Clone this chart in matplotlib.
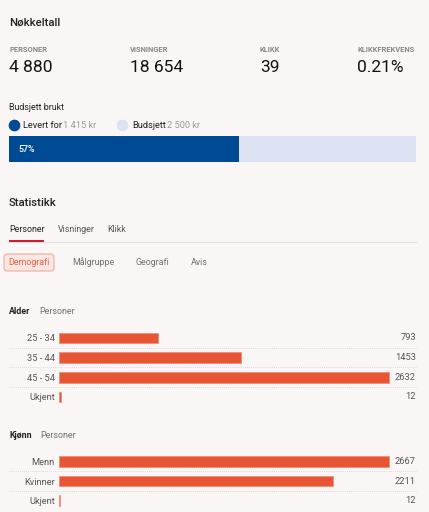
import matplotlib
matplotlib.use('Agg')
import matplotlib.pyplot as plt
from matplotlib.patches import FancyBboxPatch

plt.rcParams['font.family'] = ['Roboto', 'DejaVu Sans']

# key figures
kpi_labels = ['PERSONER', 'VISNINGER', 'KLIKK', 'KLIKKFREKVENS']
kpi_values = ['4 880', '18 654', '39', '0.21%']

# budget
budget_total = 2500
budget_used = 1415

# demographics
age_groups = ['25 - 34', '35 - 44', '45 - 54', 'Ukjent']
age_persons = [793, 1453, 2632, 12]
genders = ['Menn', 'Kvinner', 'Ukjent']
gender_persons = [2667, 2211, 12]

W, H = 429, 512
bg = '#faf6f5'
dark = '#222222'
grey = '#6f6f6f'
bar_red = '#e85535'
navy = '#004a93'
pale = '#dde3f2'
fs = 6.4

fig = plt.figure(figsize=(W / 100, H / 100), dpi=100, facecolor=bg)
ax0 = fig.add_axes([0, 0, 1, 1])
ax0.set_xlim(0, W)
ax0.set_ylim(H, 0)
ax0.axis('off')
ax0.set_facecolor(bg)


def px_axes(x0, y0, x1, y1):
    # axes placed by pixel box (top-left origin)
    a = fig.add_axes([x0 / W, 1 - y1 / H, (x1 - x0) / W, (y1 - y0) / H])
    a.set_facecolor('none')
    return a


# header
ax0.text(9, 23, 'Nøkkeltall', fontsize=8.2, color=dark, va='center', weight='medium')
kpi_x = [9, 130, 260, 357]
for x, lab, val in zip(kpi_x, kpi_labels, kpi_values):
    ax0.text(x, 50, lab, fontsize=5.4, color='#888888', va='center', weight='bold')
    ax0.text(x, 67.5, val, fontsize=12.5, color='#111111', va='center')

# budget
ax0.text(9, 107, 'Budsjett brukt', fontsize=fs, color=dark, va='center')
ax0.scatter([14], [125], s=55, color=navy)
ax0.scatter([122], [125], s=55, color=pale)
ax0.text(23, 125, 'Levert for', fontsize=fs + 0.3, color=dark, va='center')
ax0.text(63, 125, f'{budget_used:,} kr'.replace(',', ' '), fontsize=fs + 0.3, color='#999999', va='center')
ax0.text(132, 125, 'Budsjett', fontsize=fs + 0.3, color=dark, va='center')
ax0.text(167, 125, f'{budget_total:,} kr'.replace(',', ' '), fontsize=fs + 0.3, color='#999999', va='center')

axb = px_axes(9, 136, 416, 162)
axb.barh([0], [budget_total], height=1, color=pale)
axb.barh([0], [budget_used], height=1, color=navy)
axb.set_xlim(0, budget_total)
axb.set_ylim(-0.5, 0.5)
axb.axis('off')
axb.text(0.022, 0, f'{budget_used / budget_total:.0%}', transform=axb.get_yaxis_transform(),
         fontsize=fs, color='white', va='center', weight='medium')

# statistics header and tabs
ax0.text(9, 203, 'Statistikk', fontsize=8.2, color=dark, va='center', weight='medium')
for x, t, c in zip([9, 58, 107], ['Personer', 'Visninger', 'Klikk'], [dark, '#555555', '#555555']):
    ax0.text(x, 230, t, fontsize=fs, color=c, va='center')
ax0.plot([9, 416], [242, 242], color='#e3e0df', lw=0.8)
ax0.plot([9, 44], [241, 241], color='#d0021b', lw=1.3, solid_capstyle='butt')

pill = FancyBboxPatch((4, 254), 50, 17, boxstyle='round,pad=0,rounding_size=3',
                      fc='#fbe6e1', ec='#eba392', lw=0.7)
ax0.add_patch(pill)
ax0.text(29, 262.5, 'Demografi', fontsize=fs, color='#e0604a', va='center', ha='center')
for x, t in zip([72, 136, 191], ['Målgruppe', 'Geografi', 'Avis']):
    ax0.text(x, 262.5, t, fontsize=fs, color=grey, va='center')


def bar_block(title, cats, vals, top, sub_x):
    ax0.text(9, top - 16, title, fontsize=fs, color=dark, va='center', weight='bold')
    ax0.text(sub_x, top - 16, 'Personer', fontsize=fs, color=grey, va='center')
    n = len(cats)
    ax = px_axes(59, top, 416, top + n * 19.7)
    ax.barh(range(n), vals, height=0.54, color=bar_red, edgecolor='#f28a72', linewidth=0.5)
    ax.set_xlim(0, max(vals) * 357 / 330)
    ax.set_ylim(n - 0.5, -0.5)
    for s in ax.spines.values():
        s.set_visible(False)
    ax.set_xticks([])
    ax.set_yticks(range(n))
    ax.set_yticklabels(cats, fontsize=fs + 0.3, color='#555555')
    ax.tick_params(axis='y', length=0, pad=3)
    for i, v in enumerate(vals):
        ax.text(1.0, i, str(v), transform=ax.get_yaxis_transform(), ha='right', va='center',
                fontsize=fs + 0.3, color='#555555')
    for i in range(n - 1):
        ax.axhline(i + 0.5, xmin=-50 / 357, xmax=1, color='#cfcfcf', lw=0.6, ls=(0, (1, 1.5)),
                   clip_on=False)


bar_block('Alder', age_groups, age_persons, 328, 39)
bar_block('Kjønn', genders, gender_persons, 451.5, 40)

fig.savefig('out.png', dpi=100, facecolor=bg)
